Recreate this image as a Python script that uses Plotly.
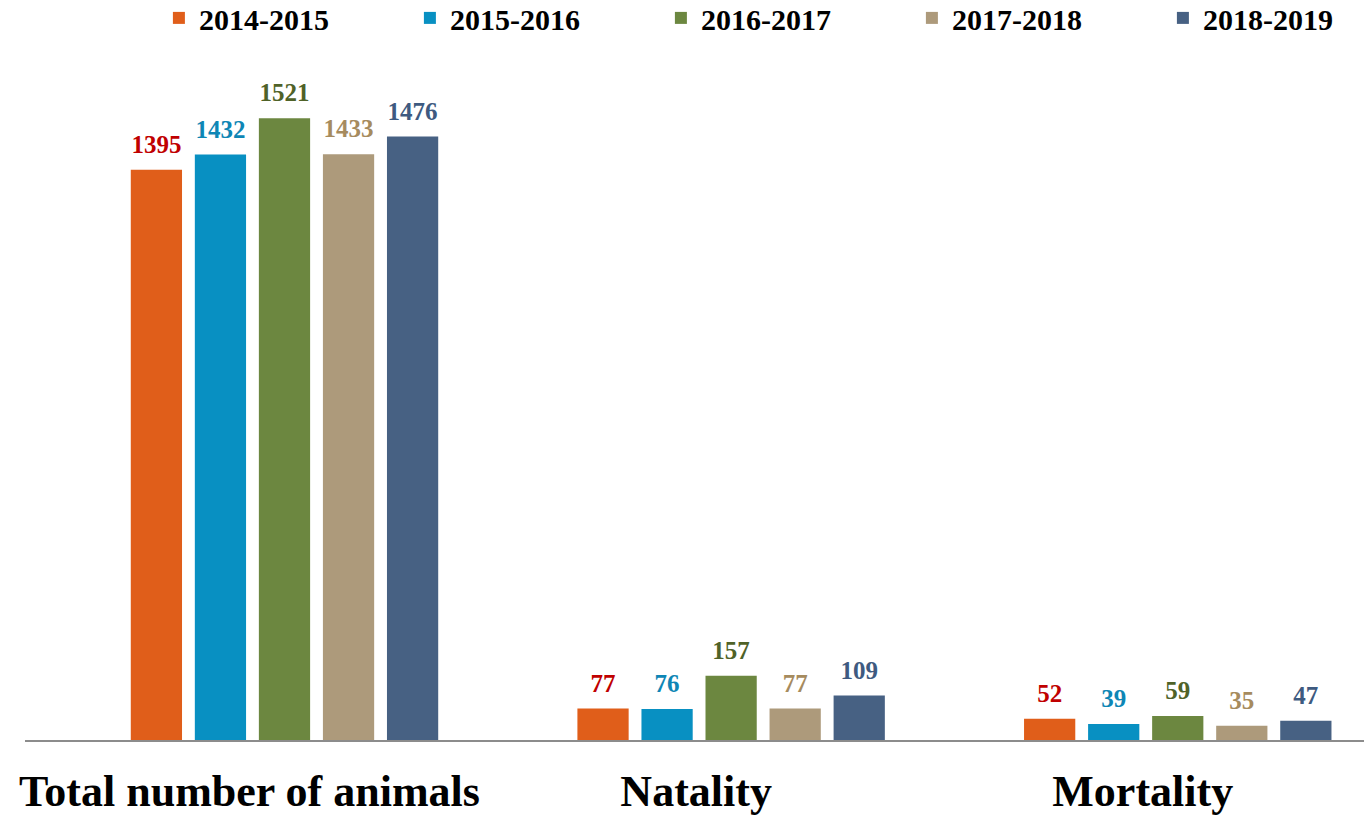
import plotly.graph_objects as go

categories = ["Total number of animals", "Natality", "Mortality"]
series_names = ["2014-2015", "2015-2016", "2016-2017", "2017-2018", "2018-2019"]
v_2014_2015 = [1395, 77, 52]
v_2015_2016 = [1432, 76, 39]
v_2016_2017 = [1521, 157, 59]
v_2017_2018 = [1433, 77, 35]
v_2018_2019 = [1476, 109, 47]
series_values = [v_2014_2015, v_2015_2016, v_2016_2017, v_2017_2018, v_2018_2019]

bar_colors = ["#E05E1A", "#0890C2", "#6C8740", "#AD9A7B", "#476183"]
label_colors = ["#C00000", "#0E86B5", "#4F6228", "#A68B5E", "#3E5A80"]

FONT = "Liberation Serif, Times New Roman, serif"

fig = go.Figure()
for name, vals, bc, lc in zip(series_names, series_values, bar_colors, label_colors):
    fig.add_trace(go.Bar(
        x=categories, y=vals, name=name,
        marker=dict(color=bc, line=dict(width=0)),
        text=[f"<span style='font-size:25px'>{v}</span><br> " for v in vals],
        textposition="outside", constraintext="none",
        textfont=dict(family=FONT, size=9, color=lc, weight="bold"),
        cliponaxis=False,
    ))

fig.update_layout(
    width=1364, height=817,
    margin=dict(l=25, r=0, t=45, b=77, autoexpand=False),
    plot_bgcolor="white", paper_bgcolor="white",
    barmode="group", bargap=0.283, bargroupgap=0.2,
    showlegend=True,
    legend=dict(orientation="h", x=0.100, xanchor="left", y=1.039, yanchor="middle",
                font=dict(family=FONT, size=30, color="black", weight="bold"),
                entrywidth=206, entrywidthmode="pixels", itemsizing="constant",
                traceorder="normal"),
    xaxis=dict(range=[-0.581, 2.417], showline=True, linecolor="#8C8C8C", linewidth=2,
               ticks="", ticklabelstandoff=11, ticklabelshift=-35, automargin=False,
               tickfont=dict(family=FONT, size=44, color="black", weight="bold"),
               showgrid=False, zeroline=False),
    yaxis=dict(range=[0, 1700], visible=False, showgrid=False, zeroline=False, automargin=False),
)

fig.write_html("out.html", post_script="document.body.style.margin='0';",
               config={"displayModeBar": False})
